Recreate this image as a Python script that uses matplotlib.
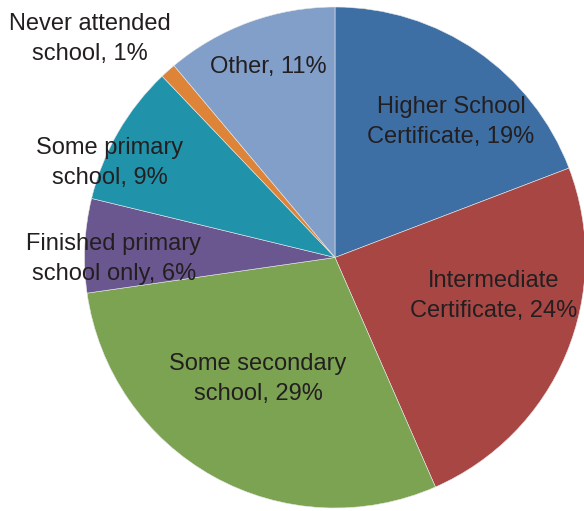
import matplotlib
matplotlib.use("Agg")
import matplotlib.pyplot as plt

# Highest level of schooling attained (share of respondents, %)
categories = [
    "Higher School\nCertificate",
    "Intermediate\nCertificate",
    "Some secondary\nschool",
    "Finished primary\nschool only",
    "Some primary\nschool",
    "Never attended\nschool",
    "Other",
]
shares = [19, 24, 29, 6, 9, 1, 11]
colors = ["#3D6FA5", "#A84644", "#7BA352", "#6A5790", "#2093AA", "#DD8439", "#829FCA"]

# label anchor points (figure pixels, origin top-left)
label_pos = [
    (451, 122),
    (494, 296),
    (258, 379),
    (114, 259),
    (110, 163),
    (90, 39),
    (268, 67),
]

W, H = 584, 511
fig = plt.figure(figsize=(W / 100, H / 100), dpi=100)
ax = fig.add_axes([0, 0, 1, 1])

cx, cy, r = 335, H - 257.5, 250.5
ax.pie(
    shares,
    colors=colors,
    startangle=90,
    counterclock=False,
    radius=r,
    center=(cx, cy),
    wedgeprops=dict(edgecolor="#E8E8E8", linewidth=0.4),
    frame=True,
)
ax.set_xlim(0, W)
ax.set_ylim(0, H)
ax.set_aspect("equal")
ax.axis("off")

for name, val, (px, py) in zip(categories, shares, label_pos):
    ax.text(
        px, H - py, f"{name}, {val}%",
        ha="center", va="center", multialignment="center",
        fontsize=17, family=["Liberation Sans", "DejaVu Sans"],
        color="#231F20", linespacing=1.45,
    )

fig.savefig("out.png", dpi=100)
